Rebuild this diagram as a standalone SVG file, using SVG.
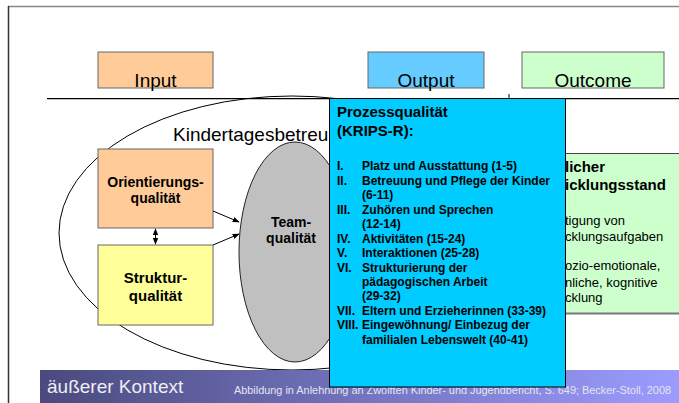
<svg xmlns="http://www.w3.org/2000/svg" width="679" height="403" viewBox="0 0 679 403">
<style>
text{font-family:"Liberation Sans",Arial,sans-serif;fill:#000}
.t19{font-size:19px}
.b{font-weight:bold}
.hdr{stroke:#666;stroke-width:1}
.lst{font-size:12px;font-weight:bold}
.g{font-size:13px}
</style>
<defs>
<linearGradient id="ban" x1="0" y1="0" x2="1" y2="0">
<stop offset="0" stop-color="#4A4A7E"/>
<stop offset="1" stop-color="#9C9CFF"/>
</linearGradient>
<marker id="ah" viewBox="0 0 10 10" refX="9" refY="5" markerWidth="7" markerHeight="7" orient="auto-start-reverse">
<path d="M0,1 L10,5 L0,9 z" fill="#000"/>
</marker>
</defs>
<rect width="679" height="403" fill="#fff"/>
<line x1="8" y1="6.5" x2="679" y2="6.5" stroke="#888" stroke-width="1.5"/>
<line x1="8.5" y1="6" x2="8.5" y2="403" stroke="#333" stroke-width="1.5"/>

<g id="input"><rect x="98" y="52" width="115" height="36" fill="#FFCC99" class="hdr"/><text class="t19" x="155.5" y="87" text-anchor="middle">Input</text></g>
<g id="output"><rect x="368" y="52" width="116" height="36" fill="#66CCFF" class="hdr"/><text class="t19" x="426" y="87" text-anchor="middle">Output</text></g>
<g id="outcome"><rect x="522" y="52" width="142" height="36" fill="#CCFFCC" class="hdr"/><text class="t19" x="593" y="87" text-anchor="middle">Outcome</text></g>

<g id="kindertagesbetreuung">
<ellipse cx="292" cy="233" rx="233" ry="137" fill="#fff" stroke="#000" stroke-width="1"/>
<text class="t19" x="173" y="141">Kindertagesbetreu</text>
</g>
<line x1="47" y1="98.7" x2="679" y2="98.7" stroke="#000" stroke-width="1.2"/>
<line x1="509" y1="94" x2="509" y2="99" stroke="#000" stroke-width="1"/>

<g id="kindlicher-entwicklungsstand">
<rect x="500" y="153.5" width="190" height="160" fill="#CCFFCC" stroke="#444" stroke-width="1"/>
<line x1="500" y1="313.5" x2="679" y2="313.5" stroke="#777" stroke-width="2"/>
<text class="b" style="font-size:15px" x="565" y="172">licher</text>
<text class="b" style="font-size:15px" x="565" y="190">icklungsstand</text>
<text class="g" x="565" y="225">tigung von</text>
<text class="g" x="565" y="241">cklungsaufgaben</text>
<text class="g" x="565" y="270">ozio-emotionale,</text>
<text class="g" x="565" y="287">nliche, kognitive</text>
<text class="g" x="565" y="302">cklung</text>
</g>

<g id="orientierungsqualitaet"><rect x="98" y="149" width="115" height="79" fill="#FFCC99" stroke="#666" stroke-width="1"/><text class="b" style="font-size:14px" x="155.5" y="187" text-anchor="middle">Orientierungs-</text><text class="b" style="font-size:14px" x="155.5" y="203" text-anchor="middle">qualität</text></g>
<g id="strukturqualitaet"><rect x="98" y="245" width="115" height="80" fill="#FFFF99" stroke="#666" stroke-width="1"/><text class="b" style="font-size:15px" x="155.5" y="283" text-anchor="middle">Struktur-</text><text class="b" style="font-size:15px" x="155.5" y="301" text-anchor="middle">qualität</text></g>
<g id="teamqualitaet"><ellipse cx="295" cy="252" rx="56" ry="110" fill="#C0C0C0" stroke="#222" stroke-width="1"/><text class="b" style="font-size:14px" x="291" y="227" text-anchor="middle">Team-</text><text class="b" style="font-size:14px" x="291" y="243" text-anchor="middle">qualität</text></g>

<g id="connectors" stroke="#000" stroke-width="1" fill="none">
<line x1="155.5" y1="229" x2="155.5" y2="244" marker-start="url(#ah)" marker-end="url(#ah)"/>
<line x1="213" y1="211" x2="239" y2="222" marker-end="url(#ah)"/>
<line x1="213" y1="245" x2="239" y2="234" marker-end="url(#ah)"/>
</g>

<g id="banner">
<rect x="40" y="370" width="639" height="33" fill="url(#ban)"/>
<text x="47" y="393" style="font-size:19px;fill:#EEEEF4">äußerer Kontext</text>
<text x="234" y="394" style="font-size:10px;fill:#E4E4F0" textLength="437" lengthAdjust="spacingAndGlyphs">Abbildung in Anlehnung an Zwölften Kinder- und Jugendbericht, S. 649; Becker-Stoll, 2008</text>
</g>

<g id="prozessqualitaet">
<rect x="329.5" y="98.5" width="236" height="288.5" fill="#00CCFF" stroke="#000" stroke-width="1"/>
<text class="b" style="font-size:15px" x="337" y="117">Prozessqualität</text>
<text class="b" style="font-size:15px" x="337" y="136">(KRIPS-R):</text>
<g class="lst">
<text class="lst" x="337" y="170">I.</text><text class="lst" x="362" y="170">Platz und Ausstattung (1-5)</text>
<text class="lst" x="337" y="184.5">II.</text><text class="lst" x="362" y="184.5">Betreuung und Pflege der Kinder</text>
<text class="lst" x="362" y="199">(6-11)</text>
<text class="lst" x="337" y="213.5">III.</text><text class="lst" x="362" y="213.5">Zuhören und Sprechen</text>
<text class="lst" x="362" y="228">(12-14)</text>
<text class="lst" x="337" y="242.5">IV.</text><text class="lst" x="362" y="242.5">Aktivitäten (15-24)</text>
<text class="lst" x="337" y="257">V.</text><text class="lst" x="362" y="257">Interaktionen (25-28)</text>
<text class="lst" x="337" y="271.5">VI.</text><text class="lst" x="362" y="271.5">Strukturierung der</text>
<text class="lst" x="362" y="286">pädagogischen Arbeit</text>
<text class="lst" x="362" y="300">(29-32)</text>
<text class="lst" x="337" y="314.5">VII.</text><text class="lst" x="362" y="314.5">Eltern und Erzieherinnen (33-39)</text>
<text class="lst" x="337" y="329">VIII.</text><text class="lst" x="362" y="329">Eingewöhnung/ Einbezug der</text>
<text class="lst" x="362" y="343.5">familialen Lebenswelt (40-41)</text>
</g>
</g>
</svg>
